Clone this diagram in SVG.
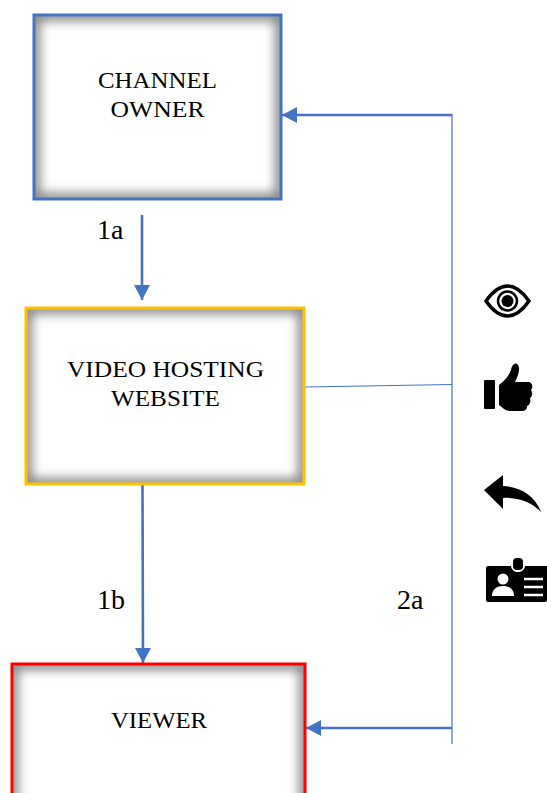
<svg xmlns="http://www.w3.org/2000/svg" width="547" height="793" viewBox="0 0 547 793">
<style>
text{font-family:"Liberation Serif","Times New Roman",serif;fill:#000}
.n{font-size:23.5px;text-anchor:middle}
.l{font-size:28px}
.box{fill:#fff}
.sh{fill:none;stroke:#707070;stroke-width:10;filter:url(#b)}
.c{fill:none;stroke:#4472c4;stroke-width:2.600}
.t{fill:none;stroke:#4472c4;stroke-width:1.200}
</style>
<defs>
<filter id="b" x="-20%" y="-20%" width="140%" height="140%"><feGaussianBlur stdDeviation="6"/></filter>
<marker id="a" markerUnits="userSpaceOnUse" markerWidth="16" markerHeight="16" refX="15" refY="8" orient="auto"><path d="M0 0L15 8L0 16Z" fill="#4472c4"/></marker>
<clipPath id="c1"><rect x="34" y="15" width="247" height="184"/></clipPath>
<clipPath id="c2"><rect x="26" y="308" width="278" height="176"/></clipPath>
<clipPath id="c3"><rect x="12" y="664" width="293" height="150"/></clipPath>
</defs>
<g id="connectors">
<path class="c" d="M142 215V300" marker-end="url(#a)"/>
<path class="c" d="M142.500 484L143 663" marker-end="url(#a)"/>
<path class="t" d="M452 114V744"/>
<path class="t" d="M305 387L452 384.500"/>
<path class="c" d="M452 115H282" marker-end="url(#a)"/>
<path class="c" d="M452 728H306" marker-end="url(#a)"/>
</g>
<g id="channel-owner">
<rect class="box" x="34" y="15" width="247" height="184"/>
<g clip-path="url(#c1)"><rect class="sh" x="34" y="15" width="247" height="184"/></g>
<rect x="34" y="15" width="247" height="184" fill="none" stroke="#4472c4" stroke-width="3"/>
<text class="n" x="157.500" y="88" textLength="119" lengthAdjust="spacingAndGlyphs">CHANNEL</text>
<text class="n" x="157.500" y="117" textLength="94" lengthAdjust="spacingAndGlyphs">OWNER</text>
</g>
<g id="video-hosting-website">
<rect class="box" x="26" y="308" width="278" height="176"/>
<g clip-path="url(#c2)"><rect class="sh" x="26" y="308" width="278" height="176"/></g>
<rect x="26" y="308" width="278" height="176" fill="none" stroke="#ffc000" stroke-width="3"/>
<text class="n" x="165.500" y="377" textLength="197" lengthAdjust="spacingAndGlyphs">VIDEO HOSTING</text>
<text class="n" x="165.500" y="406" textLength="109" lengthAdjust="spacingAndGlyphs">WEBSITE</text>
</g>
<g id="viewer">
<rect class="box" x="12" y="664" width="293" height="150"/>
<g clip-path="url(#c3)"><rect class="sh" x="12" y="664" width="293" height="150"/></g>
<rect x="12" y="664" width="293" height="150" fill="none" stroke="#ff0000" stroke-width="3"/>
<text class="n" x="159" y="728" textLength="96" lengthAdjust="spacingAndGlyphs">VIEWER</text>
</g>
<g id="labels">
<text class="l" x="97" y="239">1a</text>
<text class="l" x="97" y="609">1b</text>
<text class="l" x="397" y="609">2a</text>
</g>
<g id="icon-eye">
<path d="M486 301C493 291 501 286 507.500 286C514 286 522 291 529 301C522 311 514 316 507.500 316C501 316 493 311 486 301Z" fill="none" stroke="#000" stroke-width="3.500"/>
<circle cx="507.500" cy="301" r="9.500" fill="none" stroke="#000" stroke-width="2.500"/>
<circle cx="507.500" cy="301" r="6"/>
</g>
<g id="icon-thumb">
<rect x="484" y="380" width="11" height="29" rx="1"/>
<path d="M499 385C505 380 509 376 511 370C512 364 516 362 518 365C521 369 517 378 515 382H528C533 382 533 388 531 390C533 393 532 397 530 398C531 401 530 405 527 406C527 410 525 411 521 411H510C505 411 502 407 499 405Z"/>
</g>
<g id="icon-reply">
<path d="M484 490L503 475V486C523 487 536 498 541 512C532 502 518 497 503 498V509Z"/>
</g>
<g id="icon-id-card">
<path d="M488 566H511C512 574 524 574 525 566H547V600C547 601 546 602 545 602H488C487 602 486 601 486 600V568C486 567 487 566 488 566Z"/>
<rect x="513" y="558" width="10" height="12" rx="4"/>
<circle cx="503" cy="579" r="5.500" fill="#fff"/>
<path d="M492 596C492 589 497 586 503 586C509 586 514 589 514 596Z" fill="#fff"/>
<path d="M524 579H543M524 587H543M524 595H543" stroke="#fff" stroke-width="2.400"/>
</g>
</svg>
